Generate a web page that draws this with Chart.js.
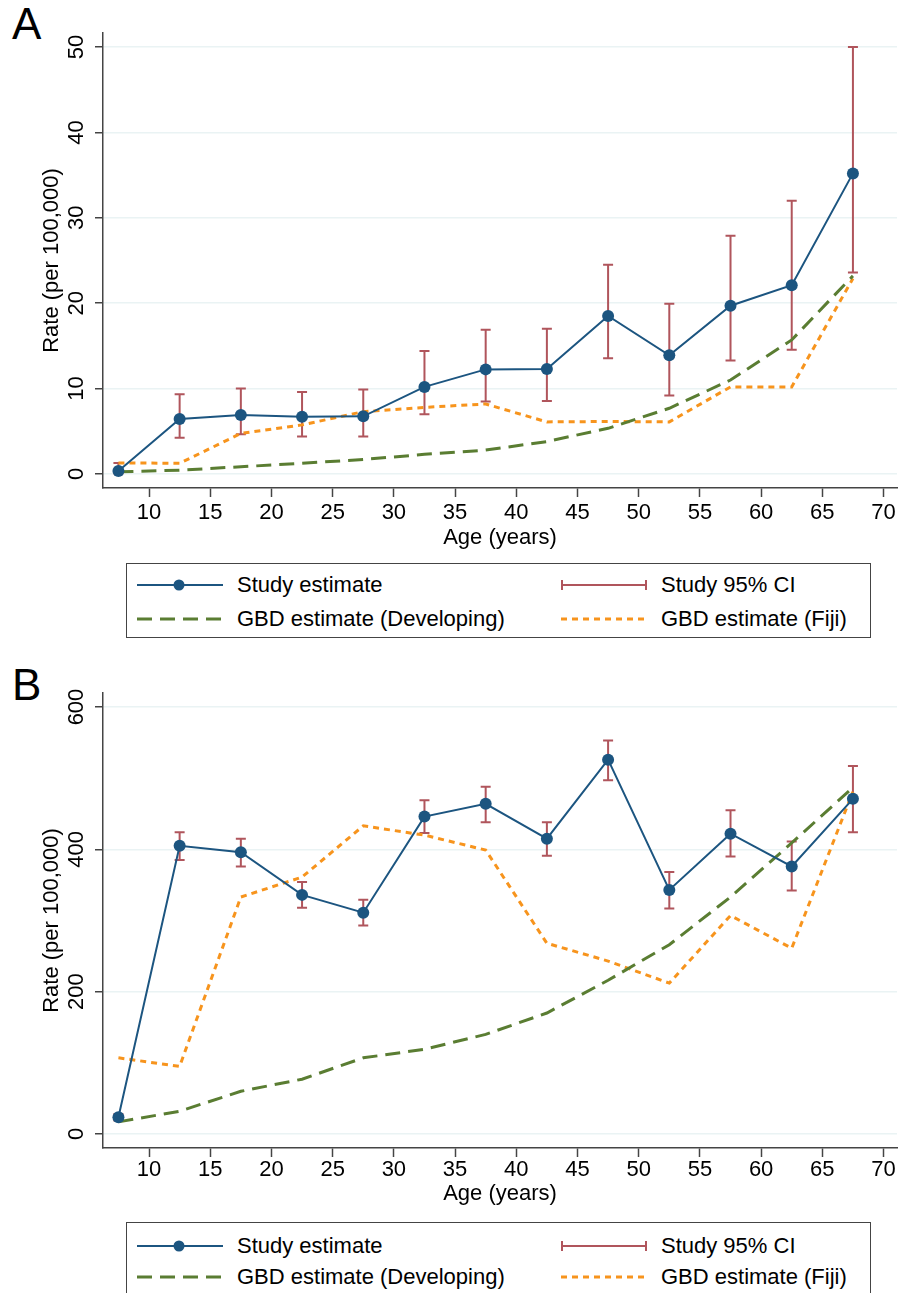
<!DOCTYPE html>
<html>
<head>
<meta charset="utf-8">
<script src="https://cdn.jsdelivr.net/npm/chart.js@4.4.1/dist/chart.umd.min.js"></script>
<style>
  body { margin: 0; width: 906px; height: 1293px; overflow: hidden; background: #fff; position: relative;
         font-family: "Liberation Sans", Arial, sans-serif; color: #000; }
  canvas { position: absolute; left: 0; }
  .panel { position: absolute; left: 12px; font-size: 44px; line-height: 44px; }
  .box { position: absolute; left: 126px; width: 745px; border: 1.5px solid #444; box-sizing: border-box; }
  .item { position: absolute; font-size: 22px; line-height: 22px; white-space: nowrap; }
  .item svg { position: absolute; top: 4px; }
</style>
</head>
<body>

<div class="panel" style="top:2px">A</div>
<canvas id="chartA" width="906" height="560" style="top:0"></canvas>
<div class="box" style="top:563px;height:75px"></div>
<div id="legendA"></div>

<div class="panel" style="top:663px">B</div>
<canvas id="chartB" width="906" height="560" style="top:650px"></canvas>
<div class="box" style="top:1222px;height:80px"></div>
<div id="legendB"></div>

<script>
// age group midpoints
const ages = [7.5, 12.5, 17.5, 22.5, 27.5, 32.5, 37.5, 42.5, 47.5, 52.5, 57.5, 62.5, 67.5];
const xTicks = [10, 15, 20, 25, 30, 35, 40, 45, 50, 55, 60, 65, 70];

// Panel A
const studyA = [0.35, 6.45, 6.9, 6.7, 6.75, 10.2, 12.25, 12.3, 18.5, 13.9, 19.7, 22.1, 35.2];
const ciLowA = [0.05, 4.25, 4.65, 4.4, 4.4, 7.0, 8.5, 8.55, 13.55, 9.2, 13.3, 14.55, 23.6];
const ciHighA = [1.3, 9.35, 10.0, 9.6, 9.9, 14.4, 16.9, 17.0, 24.5, 19.95, 27.9, 32.0, 50.0];
const gbdDevA = [0.25, 0.45, 0.85, 1.25, 1.7, 2.3, 2.8, 3.8, 5.35, 7.7, 11.0, 15.7, 23.2];
const gbdFijiA = [1.3, 1.25, 4.75, 5.75, 7.3, 7.8, 8.2, 6.1, 6.15, 6.1, 10.2, 10.2, 22.9];
const yTicksA = [0, 10, 20, 30, 40, 50];

// Panel B
const studyB = [23.5, 405, 396, 336, 311, 446, 464, 415, 526, 343, 422, 376, 471];
const ciLowB = [19, 385, 376, 318, 293, 423, 438, 391, 497, 317, 390, 342, 424];
const ciHighB = [28, 424, 415, 354, 329, 469, 488, 438, 553, 368, 455, 411, 517];
const gbdDevB = [17, 32, 60, 77, 107, 119, 140, 170, 216, 266, 333, 409, 487];
const gbdFijiB = [107, 95, 333, 361, 433, 420, 399, 268, 243, 212, 307, 261, 481];
const yTicksB = [0, 200, 400, 600];

const BLUE = "#1c5580";
const RED = "#b0555c";
const GREEN = "#5a7d32";
const ORANGE = "#f7941d";
const FONT = '"Liberation Sans", Arial, sans-serif';

function pts(vals) {
    return vals.map((v, i) => ({ x: ages[i], y: v }));
}

// error bars, drawn through the scales
const ciBars = {
    id: "ciBars",
    beforeDatasetsDraw(chart, args, opts) {
        const ctx = chart.ctx;
        const x = chart.scales.x, y = chart.scales.y;
        ctx.save();
        ctx.strokeStyle = RED;
        ctx.lineWidth = 2;
        opts.low.forEach((lo, i) => {
            const px = x.getPixelForValue(ages[i]);
            const p1 = y.getPixelForValue(lo);
            const p2 = y.getPixelForValue(opts.high[i]);
            ctx.beginPath();
            ctx.moveTo(px, p1); ctx.lineTo(px, p2);
            ctx.moveTo(px - 5, p1); ctx.lineTo(px + 5, p1);
            ctx.moveTo(px - 5, p2); ctx.lineTo(px + 5, p2);
            ctx.stroke();
        });
        ctx.restore();
    }
};

// Stata-like axis labels (rotated y tick labels)
const axisText = {
    id: "axisText",
    afterDraw(chart, args, opts) {
        const ctx = chart.ctx;
        const area = chart.chartArea;
        const x = chart.scales.x, y = chart.scales.y;
        ctx.save();
        ctx.fillStyle = "#000";
        ctx.font = "22px " + FONT;
        ctx.textAlign = "center";
        ctx.textBaseline = "middle";
        xTicks.forEach(t => ctx.fillText(String(t), x.getPixelForValue(t), area.bottom + opts.tickGap));
        ctx.fillText("Age (years)", (area.left + area.right) / 2, area.bottom + opts.titleGap);
        opts.yTicks.forEach(t => {
            ctx.save();
            ctx.translate(77, y.getPixelForValue(t));
            ctx.rotate(-Math.PI / 2);
            ctx.fillText(String(t), 0, 0);
            ctx.restore();
        });
        ctx.save();
        ctx.translate(52, (area.top + area.bottom) / 2);
        ctx.rotate(-Math.PI / 2);
        ctx.fillText("Rate (per 100,000)", 0, 0);
        ctx.restore();
        ctx.restore();
    }
};

function makeChart(id, cfg) {
    new Chart(document.getElementById(id), {
        type: "line",
        data: {
            datasets: [
                { label: "Study estimate", data: pts(cfg.study), borderColor: BLUE, borderWidth: 2,
                  pointRadius: 6, pointBackgroundColor: BLUE, pointBorderWidth: 0 },
                { label: "GBD estimate (Developing)", data: pts(cfg.dev), borderColor: GREEN, borderWidth: 3,
                  borderDash: [15, 8], pointRadius: 0 },
                { label: "GBD estimate (Fiji)", data: pts(cfg.fiji), borderColor: ORANGE, borderWidth: 3,
                  borderDash: [6, 5], pointRadius: 0 }
            ]
        },
        options: {
            responsive: false,
            animation: false,
            devicePixelRatio: 1,
            layout: { padding: { top: cfg.top, right: 9, left: 0, bottom: 0 } },
            plugins: {
                legend: { display: false },
                tooltip: { enabled: false },
                ciBars: { low: cfg.low, high: cfg.high },
                axisText: { yTicks: cfg.yTicks, tickGap: cfg.tickGap, titleGap: cfg.titleGap }
            },
            scales: {
                x: {
                    type: "linear", min: 6.24, max: 71.1,
                    afterBuildTicks: s => { s.ticks = xTicks.map(v => ({ value: v })); },
                    afterFit: s => { s.height = cfg.xHeight; },
                    ticks: { display: false },
                    grid: { drawOnChartArea: false, drawTicks: true, tickLength: 9, tickColor: "#444", tickWidth: 1.5 },
                    border: { color: "#444", width: 1.5 }
                },
                y: {
                    type: "linear", min: cfg.yMin, max: cfg.yMax,
                    afterBuildTicks: s => { s.ticks = cfg.yTicks.map(v => ({ value: v })); },
                    afterFit: s => { s.width = 103; },
                    ticks: { display: false },
                    grid: { color: "#eaf3f4", lineWidth: 1.5, drawTicks: true, tickLength: 8, tickColor: "#444", tickWidth: 1.5 },
                    border: { color: "#444", width: 1.5 }
                }
            }
        },
        plugins: [ciBars, axisText]
    });
}

makeChart("chartA", { study: studyA, low: ciLowA, high: ciHighA, dev: gbdDevA, fiji: gbdFijiA,
    yTicks: yTicksA, yMin: -1.64, yMax: 51.64, top: 33, xHeight: 72, tickGap: 25, titleGap: 50 });
makeChart("chartB", { study: studyB, low: ciLowB, high: ciHighB, dev: gbdDevB, fiji: gbdFijiB,
    yTicks: yTicksB, yMin: -19.7, yMax: 619.7, top: 43, xHeight: 62, tickGap: 22, titleGap: 46 });

// legends (HTML)
function sample(kind) {
    const w = 86;
    if (kind === "study")
        return '<svg width="' + w + '" height="14"><line x1="0" y1="7" x2="' + w + '" y2="7" stroke="' + BLUE + '" stroke-width="2"/>' +
               '<circle cx="42" cy="7" r="5.5" fill="' + BLUE + '"/></svg>';
    if (kind === "ci")
        return '<svg width="' + w + '" height="14"><line x1="1" y1="7" x2="' + (w - 1) + '" y2="7" stroke="' + RED + '" stroke-width="2"/>' +
               '<line x1="1" y1="2" x2="1" y2="12" stroke="' + RED + '" stroke-width="2"/>' +
               '<line x1="' + (w - 1) + '" y1="2" x2="' + (w - 1) + '" y2="12" stroke="' + RED + '" stroke-width="2"/></svg>';
    if (kind === "dev")
        return '<svg width="' + w + '" height="14"><line x1="0" y1="7" x2="' + w + '" y2="7" stroke="' + GREEN + '" stroke-width="3" stroke-dasharray="15 8"/></svg>';
    return '<svg width="' + w + '" height="14"><line x1="0" y1="7" x2="' + w + '" y2="7" stroke="' + ORANGE + '" stroke-width="3" stroke-dasharray="6 5"/></svg>';
}

const legendItems = [
    { kind: "study", text: "Study estimate", col: 0, row: 0 },
    { kind: "ci", text: "Study 95% CI", col: 1, row: 0 },
    { kind: "dev", text: "GBD estimate (Developing)", col: 0, row: 1 },
    { kind: "fiji", text: "GBD estimate (Fiji)", col: 1, row: 1 }
];

function buildLegend(id, rowY) {
    const el = document.getElementById(id);
    legendItems.forEach(it => {
        const sx = it.col === 0 ? 137 : 561;
        const tx = it.col === 0 ? 237 : 661;
        const cy = rowY[it.row];
        const d = document.createElement("div");
        d.className = "item";
        d.style.left = sx + "px";
        d.style.top = (cy - 11) + "px";
        d.innerHTML = sample(it.kind) + '<span style="position:absolute;left:' + (tx - sx) + 'px;top:0">' + it.text + '</span>';
        el.appendChild(d);
    });
}

buildLegend("legendA", [585, 619]);
buildLegend("legendB", [1246, 1277]);
</script>
</body>
</html>
